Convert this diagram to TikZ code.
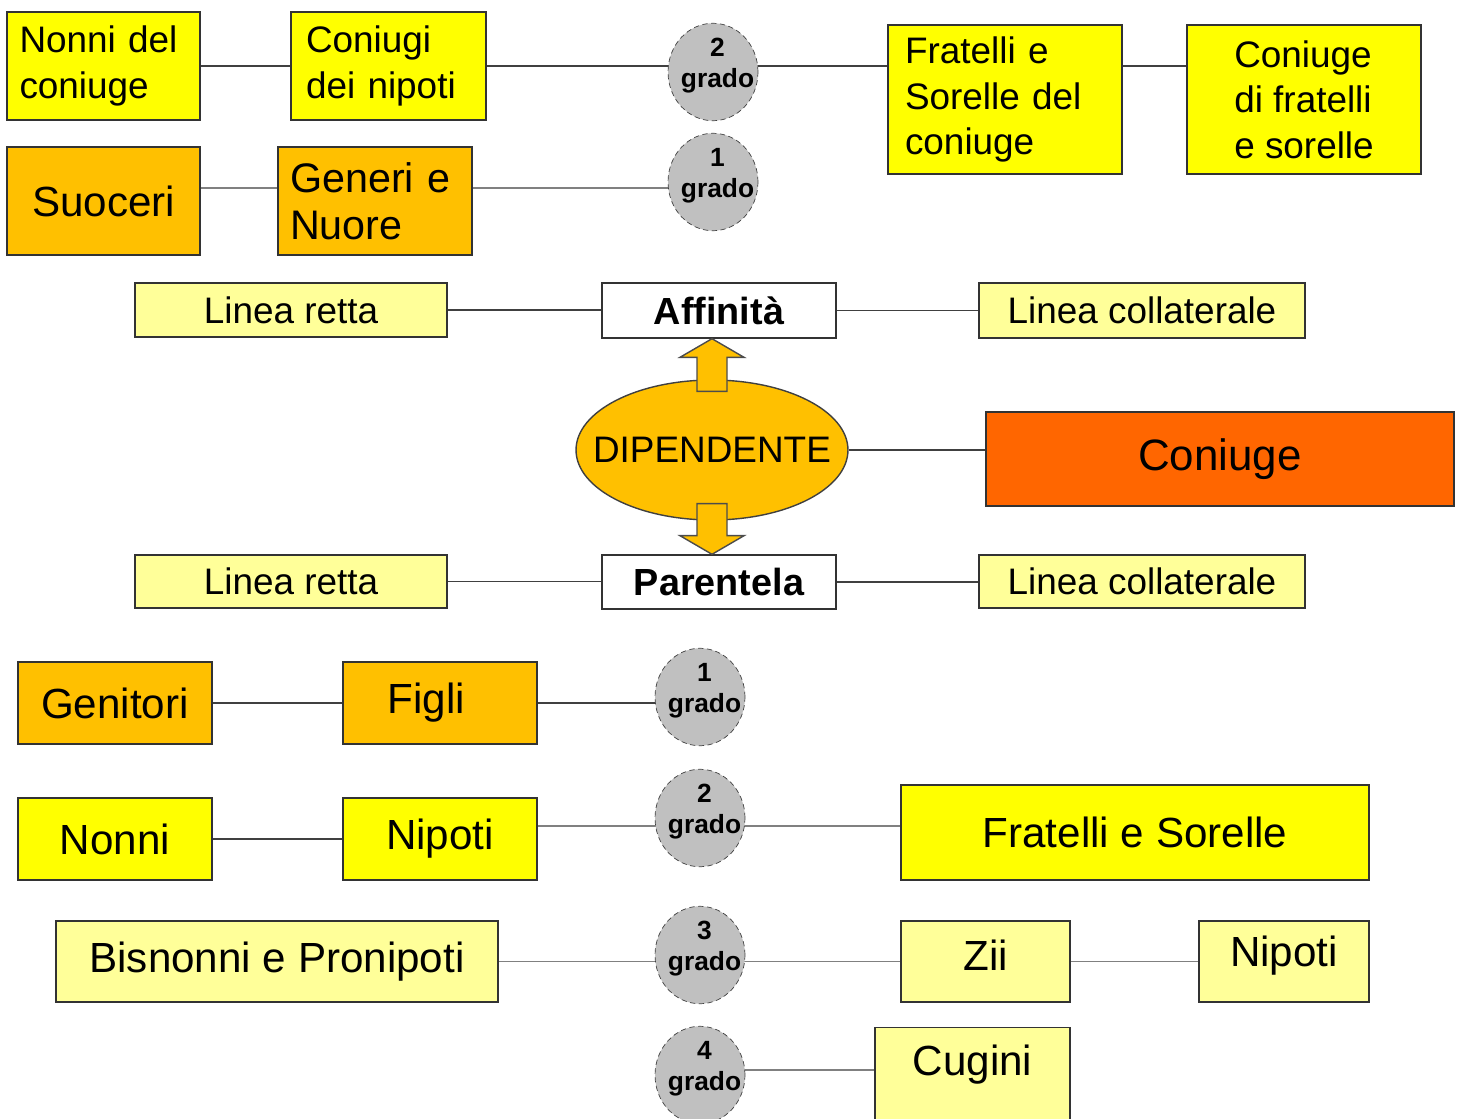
\documentclass[tikz,border=0pt]{standalone}
\usepackage{fontspec}
\setmainfont{Liberation Sans}
\usepackage{xcolor}
\usetikzlibrary{shapes.geometric,calc,backgrounds}
\definecolor{giallo}{HTML}{FFFF00}
\definecolor{arancio}{HTML}{FFC000}
\definecolor{chiaro}{HTML}{FFFF99}
\definecolor{rosso}{HTML}{FF6600}
\definecolor{grigio}{HTML}{C0C0C0}

\begin{document}
\begin{tikzpicture}[x=0.02cm, y=-0.02cm,
    box/.style = {draw=black!80, line width=0.8pt, rectangle, inner sep=0pt},
    small/.style = {font=\fontsize{21}{26}\selectfont},
    big/.style = {font=\fontsize{24}{28}\selectfont},
    yel/.style = {box, fill=giallo},
    ora/.style = {box, fill=arancio},
    pale/.style = {box, fill=chiaro},
    bianco/.style = {box, fill=white, font=\bfseries\fontsize{21.5}{26}\selectfont},
    grado/.style = {draw=black!75, densely dashed, fill=grigio, ellipse, minimum width=1.8cm,
        minimum height=1.95cm, inner sep=0pt},
    gradotxt/.style = {align=center, xshift=0.09cm, yshift=0.13cm, font=\bfseries\fontsize{15}{17.5}\selectfont},
    link/.style = {draw=black!75, line width=1.1pt},
    link2/.style = {draw=black!50, line width=1.1pt},
    blockarr/.style = {fill=arancio, draw=black!70, line width=0.8pt, line join=miter}]
      \useasboundingbox (0,0) rectangle (1464,1119);

      \node[yel, small, minimum width=3.86cm, minimum height=2.16cm, text width=3.36cm, align=left](nonnic) at (103.5,66) {Nonni del\\coniuge};
      \node[yel, small, minimum width=3.9cm, minimum height=2.16cm, text width=3.3cm, align=left](coniugi) at (388.5,66) {Coniugi\\dei nipoti};
      \node[grado, label={[gradotxt]center:{2\\grado}}](grado2a) at (713,72) {};
      \node[yel, small, minimum width=4.68cm, minimum height=2.98cm, text width=4.0cm, align=left](fratc) at (1005,99.5) {Fratelli e\\Sorelle del\\coniuge};
      \node[yel, small, minimum width=4.68cm, minimum height=2.98cm, align=left](coniugef) at (1304,99.5) {Coniuge\\di fratelli\\e sorelle};

      \node[ora, big, minimum width=3.86cm, minimum height=2.16cm](suoceri) at (103.5,201) {Suoceri};
      \node[ora, font=\fontsize{23.5}{27}\selectfont, minimum width=3.88cm, minimum height=2.16cm, text width=3.4cm, align=left](generi) at (375,201) {Generi e\\Nuore};
      \node[grado, label={[gradotxt]center:{1\\grado}}](grado1a) at (713,182) {};

      \node[pale, small, minimum width=6.24cm, minimum height=1.08cm](rettaA) at (291,310) {Linea retta};
      \node[bianco, minimum width=4.68cm, minimum height=1.1cm](affinita) at (719,310.5) {Affinità};
      \node[pale, small, minimum width=6.52cm, minimum height=1.1cm](collA) at (1142,310.5) {Linea collaterale};

      \node[ellipse, draw=black!75, line width=0.8pt, fill=arancio, minimum width=5.44cm, minimum height=2.8cm, inner sep=0pt,
        label={[small]center:DIPENDENTE}](dip) at (712,450) {};
      \node[box, fill=rosso, minimum width=9.36cm, minimum height=1.88cm, font=\fontsize{25}{30}\selectfont](coniuge) at (1220,459) {Coniuge};

      \node[pale, small, minimum width=6.24cm, minimum height=1.06cm](rettaP) at (291,581.5) {Linea retta};
      \node[bianco, minimum width=4.68cm, minimum height=1.08cm](parentela) at (719,582) {Parentela};
      \node[pale, small, minimum width=6.52cm, minimum height=1.06cm](collP) at (1142,581.5) {Linea collaterale};

      \node[ora, big, minimum width=3.88cm, minimum height=1.64cm](genitori) at (115,703) {Genitori};
      \node[ora, big, minimum width=3.88cm, minimum height=1.64cm, text width=3.3cm, align=left](figli) at (440,703) {\hspace*{0.6cm}Figli};
      \node[grado, label={[gradotxt]center:{1\\grado}}](grado1b) at (700,697) {};

      \node[yel, big, minimum width=3.88cm, minimum height=1.64cm](nonni) at (115,839) {Nonni};
      \node[yel, big, minimum width=3.88cm, minimum height=1.64cm](nipotiA) at (440,839) {Nipoti};
      \node[grado, label={[gradotxt]center:{2\\grado}}](grado2b) at (700,818) {};
      \node[yel, big, minimum width=9.36cm, minimum height=1.9cm](fratelli) at (1135,832.5) {Fratelli e Sorelle};

      \node[pale, big, minimum width=8.84cm, minimum height=1.62cm](bisnonni) at (277,961.5) {Bisnonni e Pronipoti};
      \node[grado, label={[gradotxt]center:{3\\grado}}](grado3) at (700,955) {};
      \node[pale, big, minimum width=3.38cm, minimum height=1.62cm, text depth=0.26cm](zii) at (985.5,961.5) {Zii};
      \node[pale, big, minimum width=3.4cm, minimum height=1.62cm, text depth=0.4cm](nipotiB) at (1284,961.5) {Nipoti};

      \node[grado, label={[gradotxt]center:{4\\grado}}](grado4) at (700,1075) {};
      \node[pale, big, minimum width=3.9cm, minimum height=1.9cm, text depth=0.6cm](cugini) at (972.5,1075) {Cugini};

      \coordinate (r1) at (0,66);
      \coordinate (r2) at (0,188);
      \coordinate (r7) at (0,826);
      \coordinate (r9) at (0,1070);

      \begin{scope}[on background layer]
        \draw[link] (r1 -| nonnic.east) -- (r1 -| coniugi.west);
        \draw[link] (r1 -| coniugi.east) -- (r1 -| fratc.west);
        \draw[link] (r1 -| fratc.east) -- (r1 -| coniugef.west);
        \draw[link2] (r2 -| suoceri.east) -- (r2 -| generi.west);
        \draw[link2] (r2 -| generi.east) -- (r2 -| grado1a.center);
        \draw[link] (rettaA.east) -- (rettaA.east -| affinita.west);
        \draw[link] (affinita.east) -- (affinita.east -| collA.west);
        \draw[link] (dip.east) -- (dip.east -| coniuge.west);
        \draw[link] (rettaP.east) -- (rettaP.east -| parentela.west);
        \draw[link] (parentela.east) -- (parentela.east -| collP.west);
        \draw[link] (genitori.east) -- (figli.west);
        \draw[link] (figli.east) -- (figli.east -| grado1b.center);
        \draw[link] (nonni.east) -- (nipotiA.west);
        \draw[link2] (r7 -| nipotiA.east) -- (r7 -| fratelli.west);
        \draw[link2] (bisnonni.east) -- (bisnonni.east -| zii.west);
        \draw[link2] (zii.east) -- (nipotiB.west);
        \draw[link2] (r9 -| grado4.center) -- (r9 -| cugini.west);
      \end{scope}

      \filldraw[blockarr] (dip.north |- affinita.south) -- ($(dip.north)+(32,-22)$) -- ($(dip.north)+(15,-22)$)
        -- ($(dip.north)+(15,12)$) -- ($(dip.north)+(-15,12)$) -- ($(dip.north)+(-15,-22)$) -- ($(dip.north)+(-32,-22)$) -- cycle;
      \filldraw[blockarr] (dip.south |- parentela.north) -- ($(dip.south)+(32,15)$) -- ($(dip.south)+(15,15)$)
        -- ($(dip.south)+(15,-17)$) -- ($(dip.south)+(-15,-17)$) -- ($(dip.south)+(-15,15)$) -- ($(dip.south)+(-32,15)$) -- cycle;
    \end{tikzpicture}
\end{document}
